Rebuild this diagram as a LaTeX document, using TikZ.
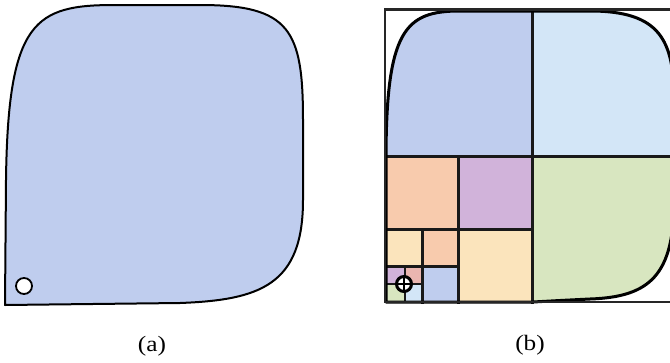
\documentclass[tikz,border=0pt]{standalone}
\usepackage{fontspec}
\setmainfont{Liberation Serif}
\definecolor{cblue}{HTML}{BFCDEE}
\definecolor{clblue}{HTML}{D3E6F7}
\definecolor{cgreen}{HTML}{D8E6C0}
\definecolor{cpeach}{HTML}{F8CBAD}
\definecolor{cpurple}{HTML}{D1B3DA}
\definecolor{cyellow}{HTML}{FBE4BC}
\definecolor{cpink}{HTML}{EAB6B0}
\tikzset{
  outline/.style={line width=2pt, black, line join=round},
  gridline/.style={line width=3pt, black!90, line cap=rect},
  fineline/.style={line width=2.4pt, black!90},
  framebox/.style={line width=2.2pt, black!85},
  caption/.style={font=\fontsize{22}{26}\selectfont, inner sep=0pt}
}
\begin{document}
\begin{tikzpicture}[x=1pt,y=-1pt]
\useasboundingbox (0,0) rectangle (670,362);
\clip (0,0) rectangle (670,362);
% ---------- (a) ----------
\draw[outline, fill=cblue]
  (5,305) -- (6,180) .. controls (8,20) and (35,5) .. (115,5)
  -- (200,5) .. controls (290,5) and (303,30) .. (303,120)
  -- (303,200) .. controls (303,285) and (260,300) .. (180,303)
  -- cycle;
\node[circle, draw=black, line width=1.8pt, fill=white, minimum size=16pt, inner sep=0pt] (hole) at (24,286) {};
\node[caption] (capa) at (152,346) {\scalebox{1.15}[1]{(a)}};
% ---------- (b) ----------
\def\shapeb{(386,302) -- (386,160) .. controls (386,30) and (405,11) .. (460,11)
  -- (590,11) .. controls (660,11) and (674,40) .. (674,100)
  -- (674,200) .. controls (674,275) and (650,297) .. (590,299)
  .. controls (560,300.5) .. (533,302) -- cycle}
\begin{scope}
  \clip \shapeb;
  \fill[cblue] (385,10) rectangle (532,156);
  \fill[clblue] (532,10) rectangle (680,156);
  \fill[cgreen] (532,156) rectangle (680,302);
  \fill[cpeach] (385,156) rectangle (458,229);
  \fill[cpurple] (458,156) rectangle (532,229);
  \fill[cyellow] (458,229) rectangle (532,302);
  \fill[cyellow] (385,229) rectangle (422,266);
  \fill[cpeach] (422,229) rectangle (458,266);
  \fill[cblue] (422,266) rectangle (458,302);
  \fill[cpurple] (385,266) rectangle (405,284);
  \fill[cpink] (405,266) rectangle (422,284);
  \fill[cgreen] (385,284) rectangle (405,302);
  \fill[clblue] (405,284) rectangle (422,302);
\end{scope}
% grid
\draw[gridline] (532,10) -- (532,302);
\draw[gridline] (385,156) -- (680,156);
\draw[gridline] (458,156) -- (458,302);
\draw[gridline] (385,229) -- (532,229);
\draw[gridline] (422,229) -- (422,302);
\draw[gridline] (385,266) -- (458,266);
\draw[fineline] (405,266) -- (405,302);
\draw[fineline] (385,284) -- (422,284);
% outline of the domain
\draw[line width=3pt, black, line join=round] \shapeb;
% frame
\draw[framebox] (385,9.5) rectangle (678,302);
% circled plus
\node[circle, draw=black, line width=3pt, fill=white, minimum size=15pt, inner sep=0pt] (origin) at (404,284) {};
\draw[line width=2pt] (origin.north) -- (origin.south);
\draw[line width=2pt] (origin.west) -- (origin.east);
\node[caption] (capb) at (530,345) {\scalebox{1.15}[1]{(b)}};
\end{tikzpicture}
\end{document}
